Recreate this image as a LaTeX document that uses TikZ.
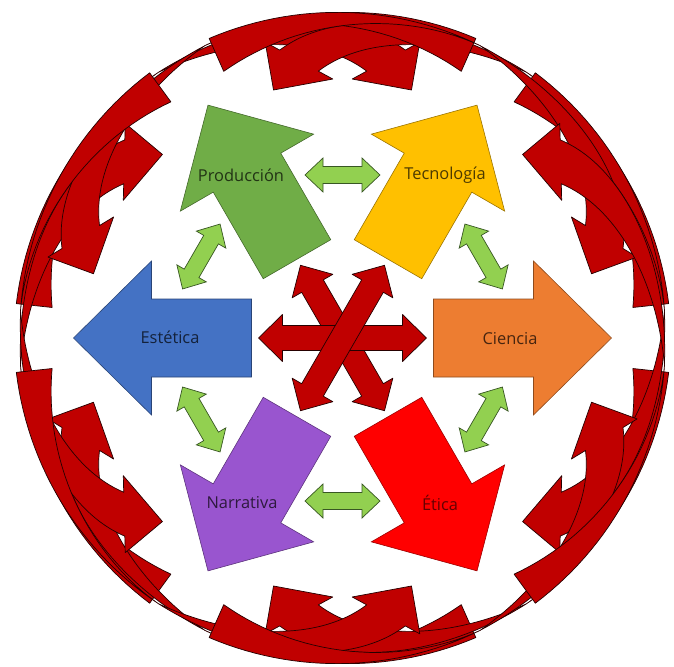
\documentclass[tikz,border=0pt]{standalone}
\usepackage{fontspec}
\setmainfont{Open Sans}
\definecolor{rojo}{HTML}{C00000}
\definecolor{verde}{HTML}{70AD47}
\definecolor{amarillo}{HTML}{FFC000}
\definecolor{azul}{HTML}{4472C4}
\definecolor{naranja}{HTML}{ED7D31}
\definecolor{morado}{HTML}{9955CF}
\definecolor{rojovivo}{HTML}{FF0000}
\definecolor{verdeclaro}{HTML}{92D050}

% tramo delantero de la flecha curva (marco propio)
\newcommand{\frente}{(235.6,136.67)
    arc[start angle=95.91, end angle=16.05, x radius=213.6, y radius=137.4]
    -- (479.4,38) -- (449.2,0) -- (402.4,38) -- (418.9,38)
    arc[start angle=16.05, end angle=84.09, x radius=213.6, y radius=137.4] -- cycle}
% lomo: media luna que sigue el anillo
\newcommand{\lomo}{plot[domain=0:1, samples=30, variable=\s] ({124.7+49.3*\s}:{323.25+4.75*\s})
    -- plot[domain=1:0, samples=30, variable=\s] ({124.7+49.3*\s}:{323.25+4.75*\s-36*\s*sqrt(\s)}) -- cycle}
\newcommand{\flechacurva}{%
  \fill[rojo] \lomo;
  \draw[borde] \lomo;
  \begin{scope}[shift={(-325.4,33)}, rotate=28.6]
    \draw[borde, fill=rojo] \frente;
  \end{scope}
}

\begin{document}
\begin{tikzpicture}[scale=0.03,
    borde/.style={draw=black!85!red, line width=0.6pt, line join=round},
    bloque/.style={line width=0.5pt, line join=miter},
    etiqueta/.style={font=\fontsize{14}{16}\selectfont}]
    \useasboundingbox (-342.5,-328) rectangle (331.5,338);

    % anillo de flechas curvas
    \foreach \a in {0,60,...,300} {
        \begin{scope}[rotate=\a]
            \flechacurva
            \begin{scope}[xscale=-1] \flechacurva \end{scope}
        \end{scope}
    }

    % flechas dobles verdes entre los bloques
    \foreach \a in {30,90,...,330} {
        \draw[fill=verdeclaro, draw=verde!50!black, line width=0.6pt, shift={(\a:163)}, rotate=\a+90]
            (-37.5,0) -- (-19.5,17) -- (-19.5,8.5) -- (19.5,8.5) -- (19.5,17) -- (37.5,0)
            -- (19.5,-17) -- (19.5,-8.5) -- (-19.5,-8.5) -- (-19.5,-17) -- cycle;
    }

    % estrella central
    \foreach \a in {120,0,60} {
        \draw[fill=rojo, borde, rotate=\a]
            (-84,0) -- (-60,23.5) -- (-60,12.5) -- (60,12.5) -- (60,23.5) -- (84,0)
            -- (60,-23.5) -- (60,-12.5) -- (-60,-12.5) -- (-60,-23.5) -- cycle;
    }

    % bloques de colores
    \foreach \a/\c in {0/naranja, 60/amarillo, 120/verde, 180/azul, 240/morado, 300/rojovivo} {
        \draw[bloque, fill=\c, draw=\c!60!black, rotate=\a]
            (91,39) -- (191,39) -- (191,77) -- (269,0) -- (191,-77) -- (191,-39) -- (91,-39) -- cycle;
    }

    % textos
    \node[etiqueta, text=verde!30!black] (produccion) at (-101.5,163) {Producción};
    \node[etiqueta, text=amarillo!30!black] (tecnologia) at (102.5,163) {Tecnología};
    \node[etiqueta, text=azul!30!black] (estetica) at (-172.5,1) {Estética};
    \node[etiqueta, text=naranja!30!black] (ciencia) at (167.5,-1) {Ciencia};
    \node[etiqueta, text=morado!30!black] (narrativa) at (-100.5,-165) {Narrativa};
    \node[etiqueta, text=rojovivo!40!black] (etica) at (97.5,-165) {Ética};
\end{tikzpicture}
\end{document}
